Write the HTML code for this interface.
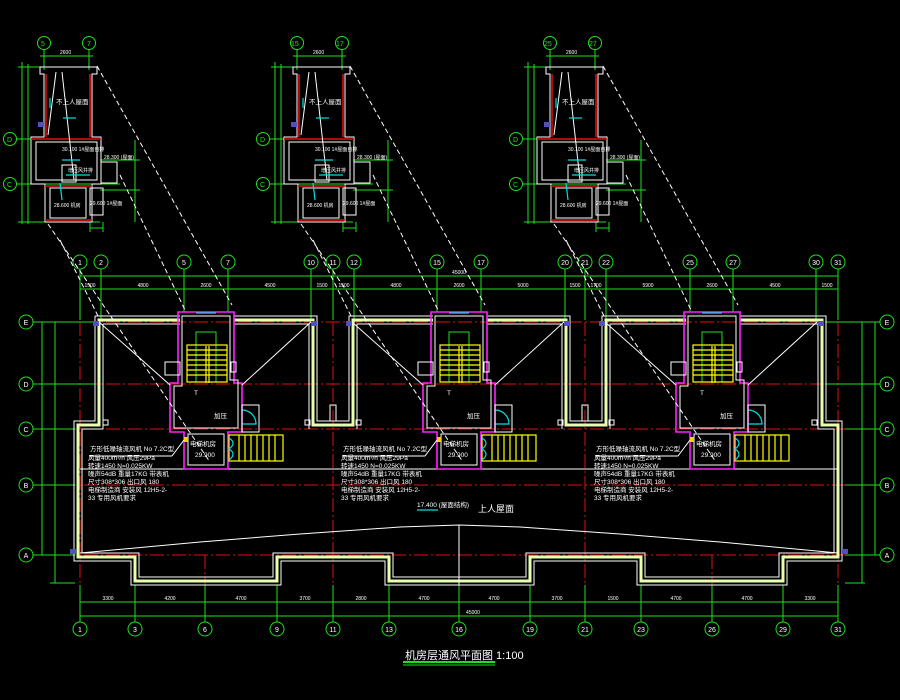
<!DOCTYPE html>
<html><head><meta charset="utf-8"><style>
html,body{margin:0;padding:0;background:#000;width:900px;height:700px;overflow:hidden}
svg{display:block}
text{font-family:"Liberation Sans","Noto Sans CJK SC",sans-serif;fill:#fff}
.g{stroke:#1ee01e;fill:none;stroke-width:1}
.r{stroke:#e01010;fill:none;stroke-width:1;stroke-dasharray:14 3 2 3}
.w{stroke:#fff;fill:none;stroke-width:1}
.wd{stroke:#fff;fill:none;stroke-width:1;stroke-dasharray:5 3}
.p{stroke:#ff20ff;fill:none;stroke-width:1.6}
.y{stroke:#ffff00;fill:none;stroke-width:1.2}
.c{stroke:#00e0e0;fill:none;stroke-width:1.2}
.wall{stroke:#e8ffb0;fill:none;stroke-width:3}
.gc{stroke:#1ee01e;fill:none;stroke-width:1}
.gt{fill:#1ee01e;font-size:7px}
.dt{fill:#fff;font-size:5px}
.tt{font-size:6.5px}
</style></head><body>
<svg width="900" height="700" viewBox="0 0 900 700" xmlns="http://www.w3.org/2000/svg">
<defs>
<g id="core">
  <path class="p" d="M178,312 L234,312 L234,383 L242,383 L242,432 L228,432 L228,469 L184,469 L184,432 L170,432 L170,383 L178,383 Z"/>
  <path class="w" d="M182,316 L230,316 L230,380 L238,380 L238,428 L174,428 L174,386 L182,386 Z"/>
  <path class="w" d="M188,434 L224,434 L224,465 L188,465 Z"/>
  <line class="c" x1="196" y1="313" x2="216" y2="313"/>
  <rect class="g" x="196" y="332" width="20" height="50"/>
  <g class="y">
    <rect x="187" y="345" width="40" height="37"/>
    <line x1="206" y1="346" x2="206" y2="383"/><line x1="209" y1="346" x2="209" y2="383"/>
    <line x1="187" y1="350" x2="227" y2="350"/><line x1="187" y1="355" x2="227" y2="355"/>
    <line x1="187" y1="360" x2="227" y2="360"/><line x1="187" y1="365" x2="227" y2="365"/>
    <line x1="187" y1="370" x2="227" y2="370"/><line x1="187" y1="375" x2="227" y2="375"/>
    <rect x="229" y="435" width="54" height="26"/>
    <line x1="239" y1="435" x2="239" y2="461"/><line x1="245" y1="435" x2="245" y2="461"/>
    <line x1="251" y1="435" x2="251" y2="461"/><line x1="257" y1="435" x2="257" y2="461"/>
    <line x1="263" y1="435" x2="263" y2="461"/><line x1="269" y1="435" x2="269" y2="461"/>
    <line x1="275" y1="435" x2="275" y2="461"/>
  </g>
  <path class="c" d="M229,438 q8,5 0,11 q8,5 0,11"/>
  <path class="c" d="M242,410 a14,14 0 0 1 14,14 L242,424"/>
  <rect class="w" x="242" y="405" width="17" height="27"/>
  <rect class="w" x="165" y="362" width="15" height="13"/>
  <rect class="w" x="231" y="362" width="5" height="10"/>
  <rect x="184" y="437" width="4" height="5" fill="#ffd000"/>
  <line class="w" x1="99" y1="322" x2="170" y2="385"/>
  <line class="w" x1="311" y1="322" x2="242" y2="385"/>
  <line class="w" x1="184" y1="440" x2="172" y2="456"/>
  <line class="w" x1="90" y1="456" x2="172" y2="456"/>
  <line class="wd" x1="97" y1="66" x2="232" y2="305"/>
  <line class="wd" x1="48" y1="224" x2="210" y2="462"/>
  <line class="wd" x1="60" y1="240" x2="100" y2="320"/>
  <line class="wd" x1="120" y1="175" x2="185" y2="310"/>
</g>
<g id="inset">
  <g class="g">
    <line x1="44" y1="49" x2="44" y2="70"/><line x1="89" y1="49" x2="89" y2="70"/>
    <line x1="40" y1="56" x2="93" y2="56"/>
    <line x1="22" y1="62" x2="22" y2="224"/><line x1="28" y1="64" x2="28" y2="224"/>
    <line x1="17" y1="139" x2="100" y2="139"/><line x1="17" y1="184" x2="120" y2="184"/>
    <line x1="18" y1="67" x2="40" y2="67"/><line x1="18" y1="222" x2="100" y2="222"/>
    <line x1="135" y1="140" x2="135" y2="222"/><line x1="100" y1="160" x2="140" y2="160"/>
    <line x1="100" y1="190" x2="140" y2="190"/><line x1="90" y1="228" x2="103" y2="228"/>
    <line x1="90" y1="222" x2="90" y2="232"/><line x1="103" y1="222" x2="103" y2="232"/>
  </g>
  <circle class="gc" cx="44" cy="43" r="6.5"/><circle class="gc" cx="89" cy="43" r="6.5"/>
  <circle class="gc" cx="10" cy="139" r="6.5"/><circle class="gc" cx="10" cy="184" r="6.5"/>
  <path class="w" d="M40,67 L97,67 L97,74 L92,74 L92,137 L101,137 L101,184 L92,184 L92,222 L45,222 L45,184 L31,184 L31,137 L44,137 L44,74 L40,74 Z"/>
  <path class="w" d="M36,142 L97,142 L97,180 L36,180 Z M50,188 L86,188 L86,218 L50,218 Z"/>
  <line x1="46" y1="74" x2="46" y2="137" stroke="#e01010" stroke-width="1.5"/>
  <line x1="90" y1="74" x2="90" y2="137" stroke="#e01010" stroke-width="1.5"/>
  <line x1="31" y1="139" x2="101" y2="139" stroke="#e01010" stroke-width="1.5"/>
  <line x1="45" y1="186" x2="92" y2="186" stroke="#e01010" stroke-width="1.5"/>
  <line x1="45" y1="220" x2="92" y2="220" stroke="#e01010" stroke-width="1.5"/>
  <rect class="w" x="101" y="162" width="16" height="21"/>
  <rect class="w" x="90" y="188" width="13" height="27"/>
  <rect class="w" x="62" y="165" width="14" height="17"/>
  <line class="w" x1="56" y1="72" x2="48" y2="135"/><line class="w" x1="62" y1="72" x2="74" y2="180"/>
  <g class="c"><line x1="63" y1="118" x2="76" y2="118"/><line x1="62" y1="160" x2="80" y2="160"/><line x1="60" y1="183" x2="62" y2="200"/><line x1="66" y1="175" x2="90" y2="175"/><line x1="50" y1="98" x2="50" y2="108"/></g>
  <rect x="38" y="122" width="6" height="5" fill="#5050c0"/>
  <text x="56" y="104" class="tt">不上人屋面</text>
  <text x="62" y="151" class="dt">30.100  1#屋面自排</text>
  <text x="68" y="172" class="dt">增压风井排</text>
  <text x="54" y="207" class="dt">28.600  机房</text>
  <text x="104" y="159" class="dt">28.300 (屋面)</text>
  <text x="90" y="205" class="dt">29.600 1#屋面</text>
  <text x="60" y="54" class="dt">2600</text>
</g>
</defs>

<use href="#inset"/>
<use href="#inset" transform="translate(253,0)"/>
<use href="#inset" transform="translate(506,0)"/>
<text x="41" y="46" class="gt">5</text><text x="87" y="46" class="gt">7</text>
<text x="291" y="46" class="gt">15</text><text x="336" y="46" class="gt">17</text>
<text x="544" y="46" class="gt">25</text><text x="589" y="46" class="gt">27</text>
<text x="7" y="142" class="gt">D</text><text x="7" y="187" class="gt">C</text>
<text x="260" y="142" class="gt">D</text><text x="260" y="187" class="gt">C</text>
<text x="513" y="142" class="gt">D</text><text x="513" y="187" class="gt">C</text>

<g class="r">
  <line x1="40" y1="322" x2="870" y2="322"/><line x1="40" y1="384" x2="870" y2="384"/>
  <line x1="40" y1="429" x2="870" y2="429"/><line x1="40" y1="485" x2="870" y2="485"/>
  <line x1="40" y1="555" x2="870" y2="555"/>
  <line x1="80" y1="300" x2="80" y2="590"/><line x1="333" y1="300" x2="333" y2="590"/>
  <line x1="585" y1="300" x2="585" y2="590"/><line x1="838" y1="300" x2="838" y2="590"/>
  <line x1="205" y1="555" x2="205" y2="590"/><line x1="712" y1="555" x2="712" y2="590"/>
</g>

<g class="g">
  <line x1="80" y1="276" x2="838" y2="276"/><line x1="80" y1="289" x2="838" y2="289"/>
  <line x1="80" y1="269" x2="80" y2="320"/><line x1="101" y1="269" x2="101" y2="320"/>
  <line x1="184" y1="269" x2="184" y2="312"/><line x1="228" y1="269" x2="228" y2="312"/>
  <line x1="311" y1="269" x2="311" y2="320"/><line x1="333" y1="269" x2="333" y2="320"/>
  <line x1="354" y1="269" x2="354" y2="320"/><line x1="437" y1="269" x2="437" y2="312"/>
  <line x1="481" y1="269" x2="481" y2="312"/><line x1="565" y1="269" x2="565" y2="320"/>
  <line x1="585" y1="269" x2="585" y2="320"/><line x1="606" y1="269" x2="606" y2="320"/>
  <line x1="690" y1="269" x2="690" y2="312"/><line x1="733" y1="269" x2="733" y2="312"/>
  <line x1="816" y1="269" x2="816" y2="320"/><line x1="838" y1="269" x2="838" y2="320"/>
  <line x1="80" y1="602" x2="838" y2="602"/><line x1="80" y1="616" x2="838" y2="616"/>
  <line x1="80" y1="585" x2="80" y2="622"/><line x1="135" y1="585" x2="135" y2="622"/>
  <line x1="205" y1="585" x2="205" y2="622"/><line x1="277" y1="585" x2="277" y2="622"/>
  <line x1="333" y1="585" x2="333" y2="622"/><line x1="389" y1="585" x2="389" y2="622"/>
  <line x1="459" y1="585" x2="459" y2="622"/><line x1="530" y1="585" x2="530" y2="622"/>
  <line x1="585" y1="585" x2="585" y2="622"/><line x1="641" y1="585" x2="641" y2="622"/>
  <line x1="712" y1="585" x2="712" y2="622"/><line x1="783" y1="585" x2="783" y2="622"/>
  <line x1="838" y1="585" x2="838" y2="622"/>
  <line x1="33" y1="322" x2="95" y2="322"/><line x1="33" y1="384" x2="95" y2="384"/>
  <line x1="33" y1="429" x2="75" y2="429"/><line x1="33" y1="485" x2="75" y2="485"/>
  <line x1="33" y1="555" x2="75" y2="555"/><line x1="50" y1="583" x2="75" y2="583"/>
  <line x1="42" y1="322" x2="42" y2="555"/><line x1="55" y1="322" x2="55" y2="583"/>
  <line x1="825" y1="322" x2="880" y2="322"/><line x1="825" y1="384" x2="880" y2="384"/>
  <line x1="845" y1="429" x2="880" y2="429"/><line x1="845" y1="485" x2="880" y2="485"/>
  <line x1="845" y1="555" x2="880" y2="555"/><line x1="845" y1="583" x2="865" y2="583"/>
  <line x1="862" y1="322" x2="862" y2="583"/><line x1="875" y1="322" x2="875" y2="555"/>
</g>
<g class="gc">
  <circle cx="80" cy="262" r="7"/><circle cx="101" cy="262" r="7"/><circle cx="184" cy="262" r="7"/><circle cx="228" cy="262" r="7"/>
  <circle cx="311" cy="262" r="7"/><circle cx="333" cy="262" r="7"/><circle cx="354" cy="262" r="7"/><circle cx="437" cy="262" r="7"/>
  <circle cx="481" cy="262" r="7"/><circle cx="565" cy="262" r="7"/><circle cx="585" cy="262" r="7"/><circle cx="606" cy="262" r="7"/>
  <circle cx="690" cy="262" r="7"/><circle cx="733" cy="262" r="7"/><circle cx="816" cy="262" r="7"/><circle cx="838" cy="262" r="7"/>
  <circle cx="80" cy="629" r="7"/><circle cx="135" cy="629" r="7"/><circle cx="205" cy="629" r="7"/><circle cx="277" cy="629" r="7"/>
  <circle cx="333" cy="629" r="7"/><circle cx="389" cy="629" r="7"/><circle cx="459" cy="629" r="7"/><circle cx="530" cy="629" r="7"/>
  <circle cx="585" cy="629" r="7"/><circle cx="641" cy="629" r="7"/><circle cx="712" cy="629" r="7"/><circle cx="783" cy="629" r="7"/>
  <circle cx="838" cy="629" r="7"/>
  <circle cx="26" cy="322" r="7"/><circle cx="26" cy="384" r="7"/><circle cx="26" cy="429" r="7"/><circle cx="26" cy="485" r="7"/><circle cx="26" cy="555" r="7"/>
  <circle cx="887" cy="322" r="7"/><circle cx="887" cy="384" r="7"/><circle cx="887" cy="429" r="7"/><circle cx="887" cy="485" r="7"/><circle cx="887" cy="555" r="7"/>
</g>
<g class="gt" text-anchor="middle">
  <text x="80" y="265">1</text><text x="101" y="265">2</text><text x="184" y="265">5</text><text x="228" y="265">7</text>
  <text x="311" y="265">10</text><text x="333" y="265">11</text><text x="354" y="265">12</text><text x="437" y="265">15</text>
  <text x="481" y="265">17</text><text x="565" y="265">20</text><text x="585" y="265">21</text><text x="606" y="265">22</text>
  <text x="690" y="265">25</text><text x="733" y="265">27</text><text x="816" y="265">30</text><text x="838" y="265">31</text>
  <text x="80" y="632">1</text><text x="135" y="632">3</text><text x="205" y="632">6</text><text x="277" y="632">9</text>
  <text x="333" y="632">11</text><text x="389" y="632">13</text><text x="459" y="632">16</text><text x="530" y="632">19</text>
  <text x="585" y="632">21</text><text x="641" y="632">23</text><text x="712" y="632">26</text><text x="783" y="632">29</text><text x="838" y="632">31</text>
  <text x="26" y="325">E</text><text x="26" y="387">D</text><text x="26" y="432">C</text><text x="26" y="488">B</text><text x="26" y="558">A</text>
  <text x="887" y="325">E</text><text x="887" y="387">D</text><text x="887" y="432">C</text><text x="887" y="488">B</text><text x="887" y="558">A</text>
</g>
<g class="dt" text-anchor="middle">
  <text x="90" y="287">1500</text><text x="143" y="287">4800</text><text x="206" y="287">2600</text><text x="270" y="287">4500</text>
  <text x="322" y="287">1500</text><text x="344" y="287">1500</text><text x="396" y="287">4800</text><text x="459" y="287">2600</text><text x="459" y="274">45000</text>
  <text x="523" y="287">5000</text><text x="575" y="287">1500</text><text x="596" y="287">1700</text><text x="648" y="287">5900</text>
  <text x="712" y="287">2600</text><text x="775" y="287">4500</text><text x="827" y="287">1500</text>
  <text x="108" y="600">3300</text><text x="170" y="600">4200</text><text x="241" y="600">4700</text><text x="305" y="600">3700</text>
  <text x="361" y="600">2800</text><text x="424" y="600">4700</text><text x="494" y="600">4700</text><text x="557" y="600">3700</text>
  <text x="613" y="600">1500</text><text x="676" y="600">4700</text><text x="747" y="600">4700</text><text x="810" y="600">3300</text>
  <text x="473" y="614">45000</text>
</g>

<path class="wall" d="M99,320 L180,320 M234,320 L313,320 L313,425 L353,425 L353,320 L433,320 M487,320 L566,320 L566,425 L606,425 L606,320 L686,320 M740,320 L822,320 L822,425 L838,425 L838,557 L783,557 L783,581 L641,581 L641,557 L530,557 L530,581 L389,581 L389,557 L277,557 L277,581 L135,581 L135,557 L78,557 L78,425 L99,425 L99,318.5"/>
<path class="w" d="M95,316 L180,316 M234,316 L317,316 L317,421 L349,421 L349,316 L433,316 M487,316 L570,316 L570,421 L602,421 L602,316 L686,316 M740,316 L826,316 L826,421 L842,421 L842,561 L787,561 L787,585 L637,585 L637,561 L534,561 L534,585 L385,585 L385,561 L281,561 L281,585 L131,585 L131,561 L74,561 L74,421 L95,421 L95,316"/>
<path class="w" d="M103,324 L180,324 M234,324 L309,324 L309,429 M357,429 L357,324 L433,324 M487,324 L562,324 L562,429 M610,429 L610,324 L686,324 M740,324 L818,324 L818,429 L834,429 L834,553 L779,553 L779,577 L645,577 L645,553 L526,553 L526,577 L393,577 L393,553 L273,553 L273,577 L139,577 L139,553 L82,553 L82,429 L103,429 L103,324"/>
<path class="w" d="M330,421 L330,405 L336,405 L336,421 M582,421 L582,405 L588,405 L588,421"/>
<line class="w" x1="80" y1="469" x2="838" y2="469"/>
<polyline class="w" points="80,553 200,542 300,534 400,527 459,525 520,527 620,534 720,542 838,553"/>
<line class="w" x1="459" y1="525" x2="459" y2="585"/>
<rect class="w" x="103" y="420" width="5" height="5"/><rect class="w" x="305" y="420" width="5" height="5"/><rect class="w" x="356" y="420" width="5" height="5"/>
<rect class="w" x="558" y="420" width="5" height="5"/><rect class="w" x="609" y="420" width="5" height="5"/><rect class="w" x="812" y="420" width="5" height="5"/>
<g fill="#5050c0"><rect x="93" y="321" width="6" height="5"/><rect x="311" y="321" width="6" height="5"/><rect x="346" y="321" width="6" height="5"/><rect x="564" y="321" width="6" height="5"/><rect x="599" y="321" width="6" height="5"/><rect x="818" y="321" width="6" height="5"/><rect x="70" y="549" width="6" height="5"/><rect x="842" y="549" width="6" height="5"/></g>

<use href="#core"/>
<use href="#core" transform="translate(253,0)"/>
<use href="#core" transform="translate(506,0)"/>

<g class="tt">
  <text x="90" y="451">方形低噪轴流风机 No 7.2C型</text><text x="88" y="460">风量400m³/h 风压29Pa</text><text x="88" y="468">转速1450 N=0.025KW</text><text x="88" y="476">噪声54dB 重量17KG 带表机</text><text x="88" y="484">尺寸308*306 出口风 180</text><text x="88" y="492">电梯制造商 安装风 12H5-2-</text><text x="88" y="500">33 专用风机要求</text>
  <text x="343" y="451">方形低噪轴流风机 No 7.2C型</text><text x="341" y="460">风量400m³/h 风压29Pa</text><text x="341" y="468">转速1450 N=0.025KW</text><text x="341" y="476">噪声54dB 重量17KG 带表机</text><text x="341" y="484">尺寸308*306 出口风 180</text><text x="341" y="492">电梯制造商 安装风 12H5-2-</text><text x="341" y="500">33 专用风机要求</text>
  <text x="596" y="451">方形低噪轴流风机 No 7.2C型</text><text x="594" y="460">风量400m³/h 风压29Pa</text><text x="594" y="468">转速1450 N=0.025KW</text><text x="594" y="476">噪声54dB 重量17KG 带表机</text><text x="594" y="484">尺寸308*306 出口风 180</text><text x="594" y="492">电梯制造商 安装风 12H5-2-</text><text x="594" y="500">33 专用风机要求</text>
  <text x="190" y="446">电梯机房</text><text x="443" y="446">电梯机房</text><text x="696" y="446">电梯机房</text>
  <text x="195" y="457">29.900</text><text x="448" y="457">29.900</text><text x="701" y="457">29.900</text>
  <text x="214" y="418">加压</text><text x="467" y="418">加压</text><text x="720" y="418">加压</text>
  <text x="194" y="395">T</text><text x="447" y="395">T</text><text x="700" y="395">T</text>
  <text x="417" y="507">17.400 (屋面结构)</text>
</g>
<line class="c" x1="417" y1="510" x2="438" y2="510"/>
<text x="478" y="512" style="font-size:9px">上人屋面</text>
<text x="405" y="659" style="font-size:11px">机房层通风平面图 1:100</text>
<line x1="403" y1="662" x2="495" y2="662" stroke="#1ee01e" stroke-width="2"/>
<line x1="403" y1="665" x2="495" y2="665" stroke="#1ee01e" stroke-width="1"/>
</svg>
</body></html>
